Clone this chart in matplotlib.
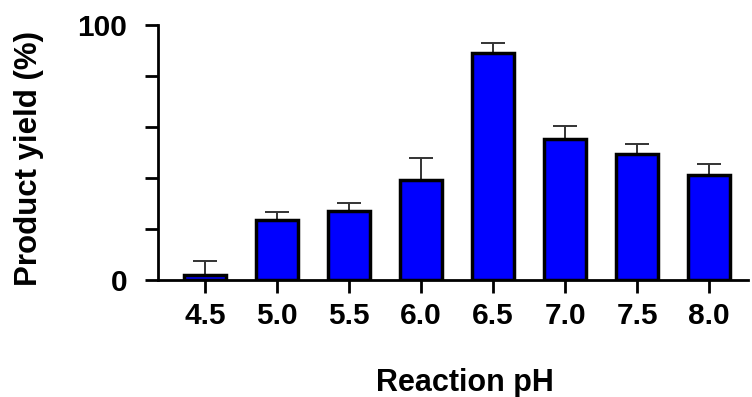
import matplotlib
matplotlib.use("Agg")
import matplotlib.pyplot as plt

categories = ["4.5", "5.0", "5.5", "6.0", "6.5", "7.0", "7.5", "8.0"]
yield_mean = [2.0, 23.5, 26.9, 39.3, 89.2, 55.2, 49.3, 41.0]
yield_err = [5.6, 3.0, 3.2, 8.4, 3.9, 5.3, 4.0, 4.6]
ytick_values = [0, 20, 40, 60, 80, 100]
ytick_labels = ["0", "", "", "", "", "100"]

plt.rcParams['font.family'] = ['Liberation Sans', 'DejaVu Sans']
plt.rcParams['font.weight'] = 'bold'

W, H = 752, 397
fig = plt.figure(figsize=(W / 100, H / 100), dpi=100)
ax = fig.add_axes([158 / W, 1 - 280 / H, (748 - 158) / W, (280 - 25) / H])

x = list(range(len(categories)))
ax.errorbar(x, yield_mean, yerr=[[0] * len(x), yield_err], fmt='none',
            ecolor='#333333', elinewidth=1.4, capsize=8.9, capthick=1.4, zorder=1)
ax.bar(x, yield_mean, width=0.59, color='#0000ff', edgecolor='black',
       linewidth=2.5, zorder=2)

ax.set_xlim(-0.653, 7.54)
ax.set_ylim(0, 100)
ax.set_xticks(x)
ax.set_xticklabels(categories, fontsize=21.5, fontweight='bold')
ax.set_yticks(ytick_values)
ax.set_yticklabels(ytick_labels, fontsize=21.5, fontweight='bold')

for side in ['top', 'right']:
    ax.spines[side].set_visible(False)
for side in ['left', 'bottom']:
    ax.spines[side].set_linewidth(2.0)
ax.tick_params(axis='both', width=2.0, length=9.2, color='black')
ax.tick_params(axis='x', pad=7)
ax.tick_params(axis='y', pad=13)

ax.set_xlabel("Reaction pH", fontsize=22, fontweight='bold')
ax.xaxis.set_label_coords((464.5 - 158) / (748 - 158), -(383 - 280) / (280 - 25))
ax.xaxis.label.set_va('center')
ax.set_ylabel("Product yield (%)", fontsize=22.5, fontweight='bold')
ax.yaxis.set_label_coords(-(158 - 29) / (748 - 158), (280 - 159) / (280 - 25))
ax.yaxis.label.set_va('center')

fig.savefig("out.png", dpi=100)
